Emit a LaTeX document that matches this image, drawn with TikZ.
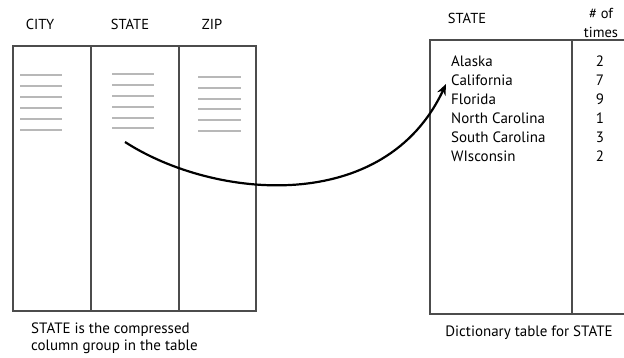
\documentclass[tikz,border=0pt]{standalone}
\usepackage{fontspec}
\setmainfont{PT Sans}
\usetikzlibrary{arrows.meta}
\begin{document}
\begin{tikzpicture}[x=1pt,y=-1pt,
  border/.style={draw=black!70,line width=1.4pt},
  fill line/.style={draw=black!28,line width=1.5pt},
  hdr/.style={font=\fontsize{14.5}{19}\selectfont,inner sep=0pt},
  entry/.style={font=\fontsize{15}{16}\selectfont,inner sep=0pt,anchor=west},
  num/.style={font=\fontsize{15}{16}\selectfont,inner sep=0pt},
  captext/.style={font=\fontsize{15}{17}\selectfont,inner sep=0pt,align=left},
  link/.style={line width=2.2pt,-{Stealth[length=11pt,width=9pt]}}]
\useasboundingbox (0,0) rectangle (624,358);
% left table
\draw[border] (13,46) rectangle (256,311);
\draw[border] (91,46) -- (91,311);
\draw[border] (179,46) -- (179,311);
\node[hdr] (hcity) at (40,24) {CITY};
\node[hdr] (hstate) at (130,24) {STATE};
\node[hdr] (hzip) at (212,24) {ZIP};
\foreach \y in {75,86,97,108,119,130} \draw[fill line] (20,\y) -- (62,\y);
\foreach \y in {74,85,96,107,118,128} \draw[fill line] (112,\y) -- (154,\y);
\foreach \y in {77,88,99,109,120,131} \draw[fill line] (198,\y) -- (241,\y);
\node[captext,anchor=north west] (lcap) at (31,323) {STATE is the compressed\\column group in the table};
% right table
\draw[border] (624,40) -- (430,40) -- (430,314) -- (624,314);
\draw[border] (572,40) -- (572,314);
\node[hdr] (rstate) at (467,18) {STATE};
\node[hdr,align=center] (rtimes) at (601,23) {\# of\\times};
\node[entry] (ala) at (451,61) {Alaska};
\node[entry] (cal) at (451,80) {California};
\node[entry] (flo) at (451,99) {Florida};
\node[entry] (nca) at (451,118) {North Carolina};
\node[entry] (sca) at (451,137) {South Carolina};
\node[entry] (wis) at (451,156) {WIsconsin};
\node[num] (n1) at (600,61) {2};
\node[num] (n2) at (600,80) {7};
\node[num] (n3) at (600,99) {9};
\node[num] (n4) at (600,118) {1};
\node[num] (n5) at (600,137) {3};
\node[num] (n6) at (600,156) {2};
\node[captext] (rcap) at (529,333) {Dictionary table for STATE};
% arrow
\coordinate (s) at (125,142);
\draw[link] (s) .. controls (215,200) and (385,215) .. ([xshift=-5pt,yshift=-4pt]cal.west);
\end{tikzpicture}
\end{document}
